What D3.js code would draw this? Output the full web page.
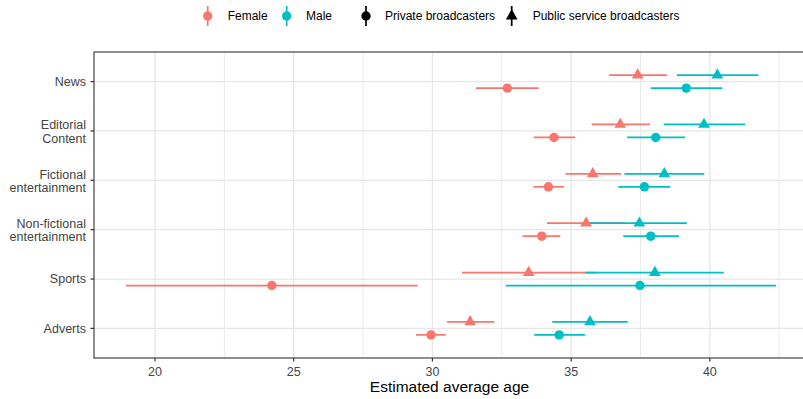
<!DOCTYPE html>
<html lang="en">
<head>
<meta charset="UTF-8">
<script src="https://d3js.org/d3.v7.min.js"></script>
<style>
  html, body { margin: 0; padding: 0; background: #fff; }
  svg text { font-family: 'Liberation Sans', Arial, sans-serif; }
</style>
</head>
<body>
<div id="chart"></div>
<script>
// categories, top to bottom
var categories = ["News", "Editorial\nContent", "Fictional\nentertainment",
                  "Non-fictional\nentertainment", "Sports", "Adverts"];

// [estimate, lower, upper] per category
var femalePublic  = [[37.40, 36.37, 38.46], [36.77, 35.74, 37.84], [35.78, 34.80, 36.80],
                     [35.54, 34.13, 36.95], [33.47, 31.06, 35.90], [31.36, 30.53, 32.23]];
var femalePrivate = [[32.70, 31.57, 33.83], [34.38, 33.65, 35.14], [34.18, 33.64, 34.74],
                     [33.94, 33.25, 34.61], [24.21, 18.95, 29.47], [29.95, 29.41, 30.48]];
var malePublic    = [[40.27, 38.81, 41.75], [39.79, 38.34, 41.27], [38.36, 36.92, 39.80],
                     [37.46, 35.62, 39.17], [38.02, 35.52, 40.50], [35.68, 34.32, 37.04]];
var malePrivate   = [[39.15, 37.87, 40.45], [38.05, 37.02, 39.11], [37.64, 36.70, 38.57],
                     [37.87, 36.88, 38.89], [37.48, 32.64, 42.39], [34.57, 33.67, 35.50]];

var xTicks = [20, 25, 30, 35, 40];
var xMinor = [22.5, 27.5, 32.5, 37.5, 42.5];

var colFemale = "#F8766D", colMale = "#00BFC4";

var W = 803, H = 399;
var svg = d3.select("#chart").append("svg").attr("width", W).attr("height", H);

var pLeft = 94, pRight = 805, pTop = 52, pBottom = 358;

var x = d3.scaleLinear().domain([17.8, 43.43]).range([pLeft, pRight]);
var y = d3.scalePoint().domain(categories).range([pTop, pBottom]).padding(0.6);

// grid
var grid = svg.append("g");
grid.selectAll(".minor").data(xMinor).enter().append("line")
  .attr("x1", d => x(d)).attr("x2", d => x(d)).attr("y1", pTop).attr("y2", pBottom)
  .attr("stroke", "#EBEBEB").attr("stroke-width", 1);
grid.selectAll(".majx").data(xTicks).enter().append("line")
  .attr("x1", d => x(d)).attr("x2", d => x(d)).attr("y1", pTop).attr("y2", pBottom)
  .attr("stroke", "#E6E6E6").attr("stroke-width", 1.3);
grid.selectAll(".majy").data(categories).enter().append("line")
  .attr("x1", pLeft).attr("x2", pRight).attr("y1", d => y(d)).attr("y2", d => y(d))
  .attr("stroke", "#E6E6E6").attr("stroke-width", 1.3);

// series
var series = [
  { data: femalePublic,  color: colFemale, shape: "tri", off: -6.5 },
  { data: femalePrivate, color: colFemale, shape: "dot", off: 6.5 },
  { data: malePublic,    color: colMale,   shape: "tri", off: -6.5 },
  { data: malePrivate,   color: colMale,   shape: "dot", off: 6.5 }
];

var lines = svg.append("g"), points = svg.append("g");
series.forEach(function(s) {
  var rows = s.data.map((v, i) => ({ cat: categories[i], est: v[0], lo: v[1], hi: v[2] }));
  lines.selectAll(null).data(rows).enter().append("line")
    .attr("x1", d => x(d.lo)).attr("x2", d => x(d.hi))
    .attr("y1", d => y(d.cat) + s.off).attr("y2", d => y(d.cat) + s.off)
    .attr("stroke", s.color).attr("stroke-width", 1.7);
  if (s.shape === "dot") {
    points.selectAll(null).data(rows).enter().append("circle")
      .attr("cx", d => x(d.est)).attr("cy", d => y(d.cat) + s.off)
      .attr("r", 4.7).attr("fill", s.color);
  } else {
    points.selectAll(null).data(rows).enter().append("path")
      .attr("d", d3.symbol(d3.symbolTriangle, 60))
      .attr("transform", d => "translate(" + x(d.est) + "," + (y(d.cat) + s.off) + ")")
      .attr("fill", s.color);
  }
});

// panel border
svg.append("rect").attr("x", pLeft).attr("y", pTop)
  .attr("width", pRight - pLeft).attr("height", pBottom - pTop)
  .attr("fill", "none").attr("stroke", "#333").attr("stroke-width", 1.1);

// y axis ticks + labels
var yAx = svg.append("g");
categories.forEach(function(c) {
  yAx.append("line").attr("x1", pLeft - 3.5).attr("x2", pLeft).attr("y1", y(c)).attr("y2", y(c))
    .attr("stroke", "#333").attr("stroke-width", 1.2);
  var parts = c.split("\n");
  var t = yAx.append("text").attr("text-anchor", "end").attr("font-size", "12.5px").attr("fill", "#444");
  parts.forEach(function(p, i) {
    t.append("tspan").attr("x", pLeft - 8)
      .attr("y", y(c) + 4.4 - 6.2 * (parts.length - 1) + 13.4 * i).text(p);
  });
});

// x axis ticks + labels
var xAx = svg.append("g");
xTicks.forEach(function(v) {
  xAx.append("line").attr("x1", x(v)).attr("x2", x(v)).attr("y1", pBottom).attr("y2", pBottom + 3.5)
    .attr("stroke", "#333").attr("stroke-width", 1.2);
  xAx.append("text").attr("x", x(v)).attr("y", pBottom + 18).attr("text-anchor", "middle")
    .attr("font-size", "12.5px").attr("fill", "#444").text(v);
});
svg.append("text").attr("x", (pLeft + pRight) / 2).attr("y", 392).attr("text-anchor", "middle")
  .attr("font-size", "15.5px").attr("fill", "#000").text("Estimated average age");

// legend
var legend = [
  { label: "Female", kx: 207.7, tx: 227.7, color: colFemale, shape: "dot" },
  { label: "Male", kx: 286.7, tx: 306, color: colMale, shape: "dot" },
  { label: "Private broadcasters", kx: 366, tx: 385, color: "#000", shape: "dot" },
  { label: "Public service broadcasters", kx: 511.7, tx: 532.7, color: "#000", shape: "tri" }
];
var lg = svg.append("g");
legend.forEach(function(l) {
  lg.append("line").attr("x1", l.kx).attr("x2", l.kx).attr("y1", 6).attr("y2", 26)
    .attr("stroke", l.color).attr("stroke-width", 1.7);
  if (l.shape === "dot") {
    lg.append("circle").attr("cx", l.kx).attr("cy", 16).attr("r", 4.7).attr("fill", l.color);
  } else {
    lg.append("path").attr("d", d3.symbol(d3.symbolTriangle, 60))
      .attr("transform", "translate(" + l.kx + ",16)").attr("fill", l.color);
  }
  lg.append("text").attr("x", l.tx).attr("y", 20.3).attr("font-size", "12px")
    .attr("fill", "#000").text(l.label);
});
</script>
</body>
</html>
